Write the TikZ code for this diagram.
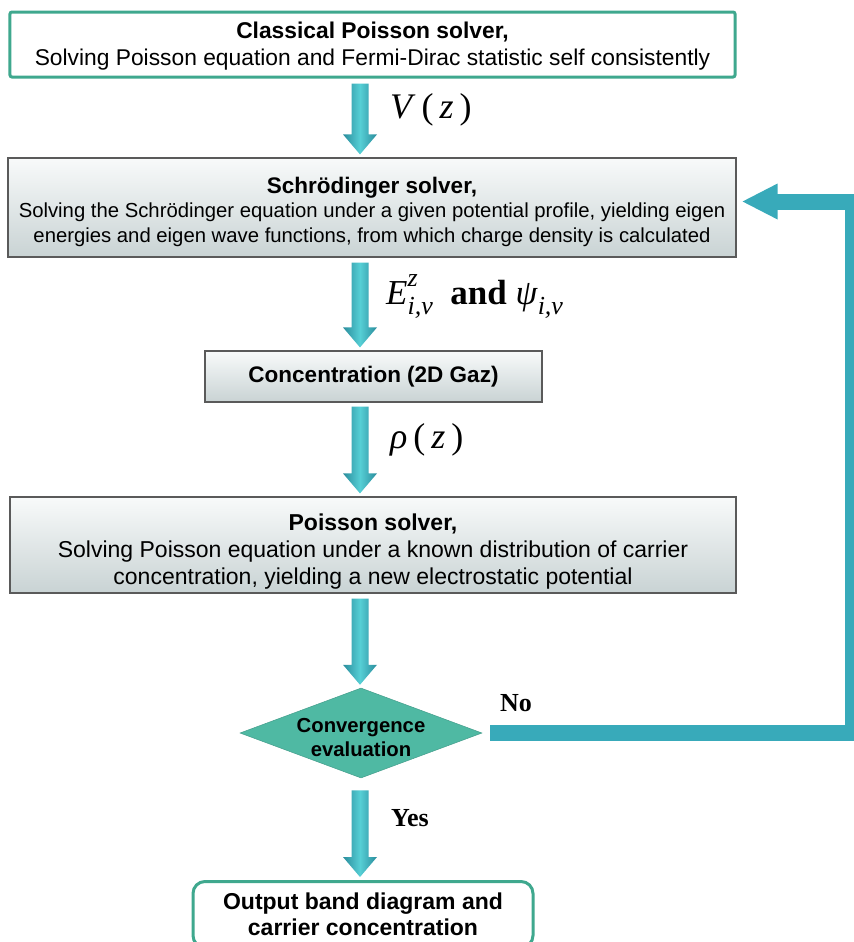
\documentclass[tikz,border=0pt]{standalone}
\usepackage{fontspec}
\setmainfont{Liberation Serif}
\setsansfont{Liberation Sans}
\usetikzlibrary{calc,shapes.geometric}
\definecolor{boxgreen}{HTML}{3FA88E}
\definecolor{grayedge}{HTML}{5A5A5A}
\definecolor{graytop}{HTML}{F8FAFA}
\definecolor{graybot}{HTML}{C9D3D4}
\definecolor{tealdark}{HTML}{2A8C9C}
\definecolor{teallight}{HTML}{56CFD5}
\definecolor{tealmid}{HTML}{38AABA}
\definecolor{diamondfill}{HTML}{4FB9A3}
\newcommand\fs[2]{\fontsize{#1bp}{#2bp}\selectfont}
\newcommand\tealarrow[4]{% from node, to node, x coordinate, top gap
  \path let \p1=(#1.south), \p2=(#2.north), \p3=(#3) in
    [left color=tealdark, right color=tealdark, middle color=teallight]
    (\x3-8.5bp,\y1-#4bp) -- (\x3+8.5bp,\y1-#4bp) -- (\x3+8.5bp,\y2+23bp)
    -- (\x3+17bp,\y2+23bp) -- (\x3,\y2+3bp) -- (\x3-17bp,\y2+23bp)
    -- (\x3-8.5bp,\y2+23bp) -- cycle;}
\newcommand\lbsub[3]{\textit{#1}\rlap{\raisebox{0.5em}{\fs{26}{26}\textit{#2}}}\raisebox{-0.3em}{\fs{26}{26}\textit{#3}}}
\tikzset{
  greenbox/.style={draw=boxgreen, line width=3bp, fill=white, rounded corners=2bp,
    align=center, inner sep=0pt},
  graybox/.style={draw=grayedge, line width=1.2bp, top color=graytop, bottom color=graybot,
    align=center, inner sep=0pt},
  decision/.style={diamond, aspect=2.7, fill=diamondfill, draw=diamondfill!85!black,
    line width=0.5bp, inner sep=0pt, minimum width=242bp, minimum height=90bp},
  dtext/.style={align=center, font=\sffamily\bfseries\fs{20.3}{24}, inner sep=0pt},
  lbl/.style={font=\fs{36}{36}, inner sep=0pt},
  yesno/.style={font=\bfseries\fs{26}{26}, inner sep=0pt},
}
\begin{document}
\begin{tikzpicture}[x=1bp,y=-1bp]
\clip (0,0) rectangle (854,942);
\fill[white] (0,0) rectangle (854,942);
\coordinate (ax) at (360,0);
\coordinate (rt) at (853,0);

\node[greenbox, font=\sffamily\fs{22.8}{27}, minimum width=725bp, minimum height=65bp] (top) at (372.5,44.5)
  {\rule{0pt}{20bp}\textbf{Classical Poisson solver,}\\
   Solving Poisson equation and Fermi-Dirac statistic self consistently};

\node[graybox, font=\sffamily\fs{20.3}{24.5}, minimum width=728bp, minimum height=99bp] (schr) at (372,207.5)
  {\rule{0pt}{25bp}{\bfseries\fs{22.5}{24.5}Schrödinger solver,}\\
   Solving the Schrödinger equation under a given potential profile, yielding eigen\\
   energies and eigen wave functions, from which charge density is calculated};

\node[graybox, font=\sffamily\bfseries\fs{22.5}{26}, minimum width=337bp, minimum height=51bp] (conc) at (373.5,376.5)
  {Concentration (2D Gaz)};

\node[graybox, font=\sffamily\fs{23}{27}, minimum width=726bp, minimum height=96bp] (pois) at (373,545)
  {\rule{0pt}{29bp}\textbf{Poisson solver,}\\
   Solving Poisson equation under a known distribution of carrier\\
   concentration, yielding a new electrostatic potential};

\node[decision] (conv) at (361,733) {};
\node[dtext] (convtxt) at (361,738) {Convergence\\evaluation};

\node[greenbox, font=\sffamily\bfseries\fs{23}{26}, rounded corners=12bp, minimum width=340bp, minimum height=66bp, anchor=north] (out) at (363,880)
  {Output band diagram and\\
   carrier concentration};

\tealarrow{top}{schr}{ax}{5}
\tealarrow{schr}{conc}{ax}{5}
\tealarrow{conc}{pois}{ax}{4}
\tealarrow{pois}{conv}{ax}{5}
\tealarrow{conv}{out}{ax}{12}

\node[lbl, anchor=west] (lv) at (390,110) {\textit{V}\,(\,\textit{z}\,)};
\node[lbl, anchor=west, font=\fs{35}{35}] (le) at (386,297)
  {\lbsub{E}{z}{i,v}\ \ \textbf{and}\ \lbsub{ψ}{}{i,v}};
\node[lbl, anchor=west] (lr) at (390,440) {\textit{ρ}\,(\,\textit{z}\,)};
\node[yesno] (no) at (516,703) {No};
\node[yesno] (yes) at (410,818) {Yes};

\draw[tealmid, line width=16bp, line join=miter]
  ($(conv.east)+(8,0)$) -- (conv.east -| rt) -- ($(rt |- schr.east)+(0,-6)$)
  -- ($(schr.east)+(40,-6)$);
\fill[tealmid] ($(schr.east)+(41,-24)$) -- ($(schr.east)+(6,-6)$) -- ($(schr.east)+(41,12)$) -- cycle;
\end{tikzpicture}
\end{document}
